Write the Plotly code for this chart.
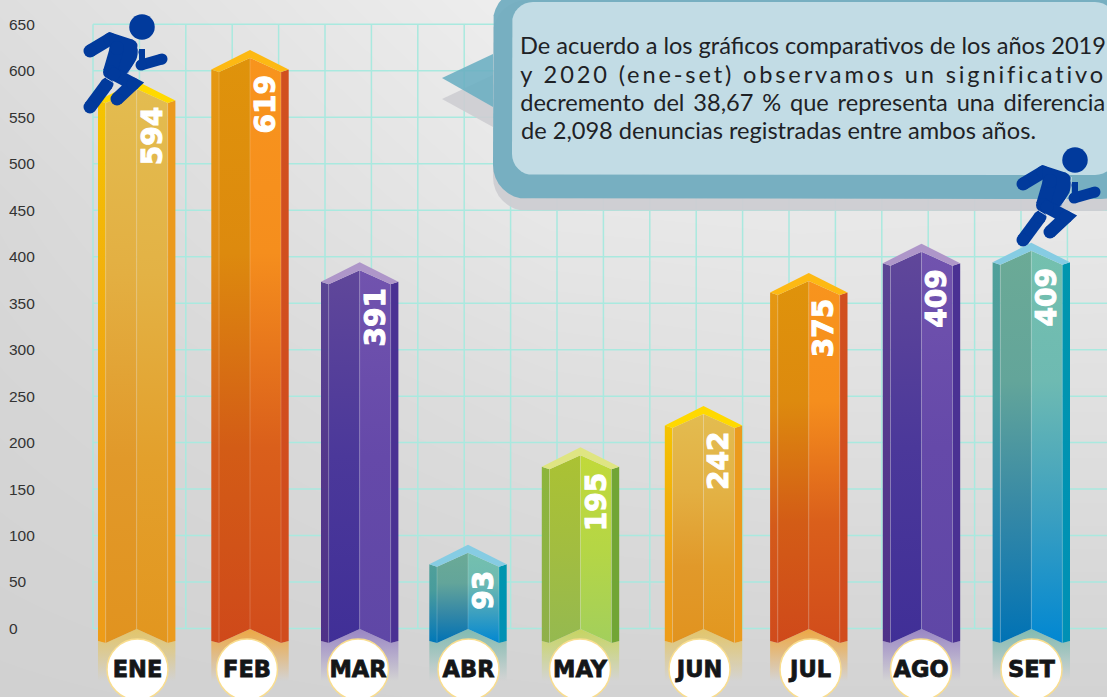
import math
import plotly.graph_objects as go

# ---- data ----
categories = ["ENE", "FEB", "MAR", "ABR", "MAY", "JUN", "JUL", "AGO", "SET"]
value_labels = [594, 619, 391, 93, 195, 242, 375, 409, 409]
drawn_heights = [589, 622.5, 394, 90, 195, 239.5, 382.5, 414, 415]
y_ticks = list(range(0, 651, 50))
note_lines = [
    "De acuerdo a los gráficos comparativos de los años 2019",
    "y 2020 (ene-set) observamos un significativo",
    "decremento del 38,67 % que representa una diferencia",
    "de 2,098 denuncias registradas entre ambos años.",
]

# ---- layout constants ----
W, H = 1107, 697
Y0 = 628.5
SCALE = 0.9295
bar_centers = [136.7, 250, 359.7, 468, 580.5, 703.5, 808.8, 921.5, 1031.3]
label_centers = [137.5, 247, 358, 468.5, 580, 699.5, 810.5, 921, 1031.5]


def dy(px):
    return (Y0 - px) / SCALE


PAL = {
    "gold": dict(cap="#FFD900", ls=["#EE9C18", "#EE9F17", "#F2B00C", "#F5C400"], lp=["#E1931F", "#E1992A", "#E3AF42", "#E3BC50"],
                 rp=["#E2961F", "#E3A02C", "#E3B245", "#E3BC50"], rs=["#EB9A1D", "#EB9A1D"], refl="227,196,100"),
    "red": dict(cap="#FDB913", ls=["#D04B1C", "#D45A1A", "#E08A14", "#E59812"], lp=["#CF491A", "#D35C16", "#DD8A0E", "#DF930B"],
                rp=["#D14C1B", "#DA5F1B", "#F58E1D", "#F8941D"], rs=["#D14C1D", "#D1501F"], refl="238,165,60"),
    "violet": dict(cap="#AE96C9", ls=["#4F3188", "#54388C", "#5A4594"], lp=["#402F97", "#4B389A", "#60479A"],
                   rp=["#5F47A6", "#6549A9", "#7153AE"], rs=["#4A3193", "#4A3193"], refl="150,130,195"),
    "teal": dict(cap="#86CCE3", ls=["#0078B8", "#2888AC", "#489C9C", "#50A09A"], lp=["#0072B5", "#3588A6", "#63A59A", "#6BAA96"],
                 rp=["#0187D2", "#3CA0C0", "#6EBAB2", "#74C0AE"], rs=["#0090B5", "#0096AE"], refl="125,185,175"),
    "green": dict(cap="#DFE582", ls=["#90B04A", "#8DB343", "#8CB53C"], lp=["#95B950", "#A2BD40", "#ABC233"],
                  rp=["#A3CF5C", "#B5D645", "#C1D93A"], rs=["#71A535", "#71A535"], refl="198,212,90"),
}
bar_pal = ["gold", "red", "violet", "teal", "green", "gold", "red", "violet", "teal"]


def stops(cols):
    n = len(cols) - 1
    return [[i / n, c] for i, c in enumerate(cols)]


fig = go.Figure()


def poly(xs, ys_px, color=None, gradient=None):
    t = go.Scatter(x=list(xs) + [xs[0]], y=[dy(p) for p in ys_px] + [dy(ys_px[0])], mode="lines",
                   fill="toself", line=dict(width=0, color="rgba(0,0,0,0)"), hoverinfo="skip", showlegend=False)
    if gradient:
        t.fillgradient = dict(type="vertical", colorscale=gradient)
    else:
        t.fillcolor = color
    fig.add_trace(t)


# background
bg_x = [0, 270, 550, 800, 1107]
bg_y_px = [0, 200, 400, 697]
bg_z = [
    [222, 230, 239, 240, 240],
    [216, 224, 232, 233, 232],
    [213, 217, 222, 224, 224],
    [209, 210, 211, 211, 211],
]
fig.add_trace(go.Heatmap(x=bg_x, y=[dy(p) for p in bg_y_px], z=bg_z, zsmooth="best", showscale=False, hoverinfo="skip",
                         zmin=200, zmax=250, colorscale=[[0, "rgb(200,200,200)"], [1, "rgb(250,250,250)"]]))

# grid
gx, gy = [], []
for t in y_ticks:
    gx += [93, W, None]
    gy += [t, t, None]
for k in range(22):
    gx += [93 + 46.4 * k, 93 + 46.4 * k, None]
    gy += [0, 650, None]
fig.add_trace(go.Scatter(x=gx, y=gy, mode="lines", line=dict(color="#A9E9DF", width=1.5), hoverinfo="skip", showlegend=False))


# note bubble
def rrect(x0, y0, x1, y1, r):
    xs, ys = [], []
    for cx, cy, a0 in [(x1 - r, y0 + r, -90), (x1 - r, y1 - r, 0), (x0 + r, y1 - r, 90), (x0 + r, y0 + r, 180)]:
        for i in range(9):
            a = math.radians(a0 + i * 90 / 8)
            xs.append(cx + r * math.cos(a))
            ys.append(cy + r * math.sin(a))
    return xs, ys


poly([442, 493, 493], [99, 75, 127], "rgba(205,205,210,0.9)")
poly(*rrect(493, 0, 1135, 211, 34), "rgba(205,205,210,0.95)")
poly([442, 493, 493], [78, 54, 107], "rgba(106,174,193,0.88)")
poly(*rrect(493, -12, 1135, 199, 34), "rgba(112,172,191,0.93)")
poly(*rrect(512, 2, 1116, 175, 21), "rgba(197,222,230,0.96)")

# bars
HW, SW = 38.7, 7.7
CORNER, INNER_PEAK, INNER_CORNER = 19.5, 8, 22
BOT_OUT, BOT_IN, NOTCH = 641, 643, 629
REFL_END = 681
for c, h, pk in zip(bar_centers, drawn_heights, bar_pal):
    p = PAL[pk]
    T = Y0 - h * SCALE
    xl, xli, xri, xr = c - HW, c - HW + SW, c + HW - SW, c + HW
    poly([xl, xli, c, xri, xr, xr, xl], [BOT_OUT, BOT_IN, NOTCH, BOT_IN, BOT_OUT, REFL_END, REFL_END],
         gradient=[[0, f"rgba({p['refl']},0)"], [0.55, f"rgba({p['refl']},0.55)"], [1, f"rgba({p['refl']},0.95)"]])
    poly([xl, xli, xli, xl], [T + CORNER, T + INNER_CORNER, BOT_IN, BOT_OUT], gradient=stops(p["ls"]))
    poly([xli, c, c, xli], [T + INNER_CORNER, T + INNER_PEAK, NOTCH, BOT_IN], gradient=stops(p["lp"]))
    poly([c, xri, xri, c], [T + INNER_PEAK, T + INNER_CORNER, BOT_IN, NOTCH], gradient=stops(p["rp"]))
    poly([xri, xr, xr, xri], [T + INNER_CORNER, T + CORNER, BOT_OUT, BOT_IN], gradient=stops(p["rs"]))
    poly([xl, c, xr, xri, c, xli], [T + CORNER, T, T + CORNER, T + INNER_CORNER, T + INNER_PEAK, T + INNER_CORNER], p["cap"])
    fig.add_trace(go.Scatter(
        x=[xli, xli, None, c, c, None, xri, xri],
        y=[dy(T + INNER_CORNER), dy(BOT_IN), None, dy(T + INNER_PEAK), dy(NOTCH), None, dy(T + INNER_CORNER), dy(BOT_IN)],
        mode="lines", line=dict(color="rgba(255,255,255,0.18)", width=1), hoverinfo="skip", showlegend=False))

# white category discs
fig.add_trace(go.Scatter(x=label_centers, y=[dy(669.5)] * 9, mode="markers", hoverinfo="skip", showlegend=False,
                         marker=dict(size=61, color="white", line=dict(color="#F9DD8E", width=1.5))))


# runners
RUN = "#013A9C"


def limb(xs, ys, w, color=RUN, dots=True):
    fig.add_trace(go.Scatter(x=xs, y=[dy(p) for p in ys], mode="lines+markers" if dots else "lines", hoverinfo="skip",
                             showlegend=False, line=dict(color=color, width=w), marker=dict(color=color, size=w)))


for ox, oy in [(0, 0), (933, 133)]:
    limb([90 + ox, 110 + ox, 131 + ox], [51 + oy, 39 + oy, 46 + oy], 13)      # back arm
    poly([110 + ox, 134 + ox, 139 + ox, 136 + ox, 124 + ox, 106 + ox, 109 + ox],
         [33 + oy, 41 + oy, 52 + oy, 60 + oy, 80 + oy, 76 + oy, 65 + oy], RUN)  # torso
    limb([117 + ox, 110 + ox], [48 + oy, 72 + oy], 14)                         # torso side
    limb([141 + ox, 162 + ox], [65 + oy, 59 + oy], 11)                         # front arm
    limb([142 + ox, 142 + ox], [49 + oy, 64 + oy], 6, dots=False)
    limb([107 + ox, 90 + ox], [84 + oy, 107 + oy], 13)                         # back leg
    limb([114 + ox, 133 + ox, 117 + ox], [74 + oy, 84 + oy, 99 + oy], 13)      # front leg
    limb([138.5 + ox, 137.5 + ox, 127 + ox], [44 + oy, 60 + oy, 74 + oy], 0.8, "rgba(225,232,240,0.8)", False)
    limb([106 + ox, 116 + ox], [78 + oy, 84 + oy], 1, "rgba(225,232,240,0.8)", False)
    fig.add_trace(go.Scatter(x=[142 + ox], y=[dy(27 + oy)], mode="markers", hoverinfo="skip", showlegend=False,
                             marker=dict(color=RUN, size=25.5)))

# annotations: value labels
anns = []
for c, h, v in zip(bar_centers, drawn_heights, value_labels):
    anns.append(dict(x=c + 15.5, y=h, yshift=-24, yanchor="top", xanchor="center", text=f"<b>{v}</b>", textangle=-90,
                     showarrow=False, font=dict(family="DejaVu Sans", size=28, color="white")))
# note text, one annotation per justified line
for line, py in zip(note_lines, [45, 74, 102, 130]):
    left = line.startswith("de 2,098")
    anns.append(dict(x=519 if left else 812.5, y=dy(py), xanchor="left" if left else "center", yanchor="middle", text=line,
                     showarrow=False, font=dict(family="Lato", size=23.6, color="#1E2226")))

fig.update_layout(
    width=W, height=H, margin=dict(l=0, r=0, t=0, b=0), autosize=False,
    paper_bgcolor="#E0E0E0", plot_bgcolor="#E0E0E0", showlegend=False, annotations=anns,
    xaxis=dict(range=[0, W], showgrid=False, zeroline=False, showline=False, tickmode="array",
               tickvals=label_centers, ticktext=[f"<b>{c}</b>" for c in categories], ticks="", ticklabelposition="inside",
               ticklabelstandoff=13, tickfont=dict(family="DejaVu Sans", size=22.5, color="#141618"), layer="above traces"),
    yaxis=dict(range=[dy(H), dy(0)], showgrid=False, zeroline=False, showline=False, tickmode="array",
               tickvals=y_ticks, ticktext=[str(t) for t in y_ticks], ticks="", ticklabelposition="inside", ticklabelstandoff=6,
               tickfont=dict(family="Liberation Sans", size=15.5, color="#333333"), layer="above traces"),
)

post = """
document.body.style.margin='0';
var gd=document.getElementById('{plot_id}');
gd.querySelectorAll('.annotation-text').forEach(function(t){
  var s=t.textContent;
  if(s.indexOf('y 2020')===0){t.style.letterSpacing='2.85px';}
  if(s.indexOf('decremento')===0){t.style.wordSpacing='2.8px';}
  if(/^[0-9]+$/.test(s)){t.style.stroke='white';t.style.strokeWidth='1px';}
});
gd.querySelectorAll('.xtick text').forEach(function(t){t.style.stroke='#141618';t.style.strokeWidth='0.8px';});
"""
fig.write_html("out.html", post_script=post, config=dict(displayModeBar=False))
